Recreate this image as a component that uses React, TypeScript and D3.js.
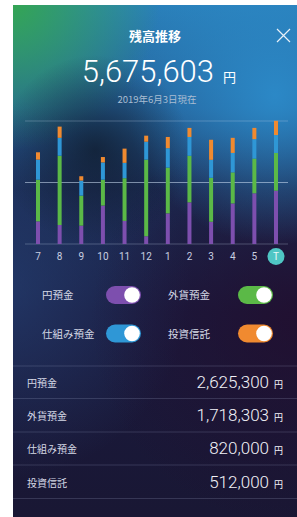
import React, { useEffect, useRef } from 'react';
import * as d3 from 'd3';

// months on the x axis ("T" = today)
const months = ["7", "8", "9", "10", "11", "12", "1", "2", "3", "4", "5", "T"];

// balances per category, in 万円
const yenDeposit = [105, 88, 85, 178, 107, 36, 142, 193, 103, 188, 235, 247];
const fxDeposit = [193, 321, 139, 120, 198, 355, 212, 216, 204, 144, 161, 175];
const structuredDeposit = [93, 83, 70, 80, 71, 83, 90, 87, 83, 90, 90, 83];
const investmentTrust = [34, 52, 20, 25, 66, 28, 52, 42, 93, 70, 52, 66];

const yTicks = [0, 285, 570];

const categories = ["円預金", "外貨預金", "仕組み預金", "投資信託"];
const categoryColors = ["#7d4fae", "#5bb947", "#2f97d6", "#f08a30"];
const categoryAmounts = [2625300, 1718303, 820000, 512000];

const totalAmount = 5675603;
const dateLabel = "2019年6月3日現在";
const title = "残高推移";

const JP = "'Noto Sans CJK JP', 'Noto Sans', sans-serif";
const NUM = "Roboto, 'Open Sans', sans-serif";

const App = () => {
  const svgRef = useRef<SVGSVGElement>(null);

  useEffect(() => {
    document.body.style.margin = "0";
    if (!svgRef.current) return;
    d3.select(svgRef.current).selectAll("*").remove();

    const width = 297;
    const height = 517;
    const panel = { x: 13, y: 5, w: 284, h: 512 };
    const cx = panel.x + panel.w / 2;

    const svg = d3.select(svgRef.current)
      .attr("width", width)
      .attr("height", height)
      .attr("viewBox", `0 0 ${width} ${height}`);

    svg.append("rect").attr("width", width).attr("height", height).attr("fill", "#fff");

    const defs = svg.append("defs");
    defs.append("clipPath").attr("id", "panel")
      .append("rect")
      .attr("x", panel.x).attr("y", panel.y).attr("width", panel.w).attr("height", panel.h);

    // background gradients
    const vert = defs.append("linearGradient").attr("id", "bgV")
      .attr("x1", 0).attr("y1", 0).attr("x2", 0).attr("y2", 1);
    [["0", "#2a80ba"], ["0.2", "#25629a"], ["0.36", "#1b2a52"], ["0.6", "#1a1a3e"], ["1", "#191734"]]
      .forEach(([o, c]) => vert.append("stop").attr("offset", o).attr("stop-color", c));

    const radial = (id: string, x: number, y: number, r: number, color: string, op: number) => {
      const g = defs.append("radialGradient").attr("id", id)
        .attr("gradientUnits", "userSpaceOnUse")
        .attr("cx", x).attr("cy", y).attr("r", r);
      g.append("stop").attr("offset", "0").attr("stop-color", color).attr("stop-opacity", op);
      g.append("stop").attr("offset", "1").attr("stop-color", color).attr("stop-opacity", 0);
    };
    radial("leftBlue", 0, 290, 190, "#27487e", 0.6);
    radial("rightPurple", 300, 320, 210, "#250b2a", 0.65);
    radial("blueGlow", 275, 95, 150, "#2c8ccb", 0.9);
    radial("greenGlow", 10, 0, 150, "#34a650", 1);
    radial("darkSpot", 95, 150, 95, "#0f1a2a", 0.75);

    const bg = svg.append("g").attr("clip-path", "url(#panel)");
    ["bgV", "leftBlue", "rightPurple", "blueGlow", "greenGlow", "darkSpot"].forEach(id => {
      bg.append("rect")
        .attr("x", panel.x).attr("y", panel.y)
        .attr("width", panel.w).attr("height", panel.h)
        .attr("fill", `url(#${id})`);
    });

    // header
    svg.append("text")
      .attr("x", cx).attr("y", 41)
      .attr("text-anchor", "middle")
      .attr("font-family", JP).attr("font-size", "13px").attr("font-weight", "bold")
      .attr("fill", "#fff")
      .text(title);

    svg.append("path")
      .attr("d", "M277,29L290,42M290,29L277,42")
      .attr("stroke", "#e8f0f8").attr("stroke-width", 1.2).attr("fill", "none");

    svg.append("text")
      .attr("x", 214).attr("y", 82)
      .attr("text-anchor", "end")
      .attr("font-family", NUM).attr("font-size", "31px").attr("font-weight", 300)
      .attr("fill", "#fff")
      .text(d3.format(",")(totalAmount));
    svg.append("text")
      .attr("x", 223).attr("y", 82)
      .attr("font-family", JP).attr("font-size", "13px")
      .attr("fill", "#fff")
      .text("円");

    svg.append("text")
      .attr("x", 157).attr("y", 103)
      .attr("text-anchor", "middle")
      .attr("font-family", JP).attr("font-size", "9.5px")
      .attr("fill", "#a9bdd2")
      .text(dateLabel);

    // chart
    const xScale = d3.scalePoint<string>().domain(months).range([38, 276]);
    const yScale = d3.scaleLinear().domain([0, 570]).range([244, 121]);

    svg.append("g").selectAll("line")
      .data(yTicks)
      .enter().append("line")
      .attr("x1", 25).attr("x2", 288)
      .attr("y1", d => yScale(d)).attr("y2", d => yScale(d))
      .attr("stroke", (d, i) => i === 1 ? "rgba(210,225,245,0.55)" : "rgba(200,215,240,0.28)")
      .attr("stroke-width", (d, i) => i === 1 ? 1.2 : 1);

    const table = months.map((m, i) => ({
      month: m,
      c0: yenDeposit[i],
      c1: fxDeposit[i],
      c2: structuredDeposit[i],
      c3: investmentTrust[i],
    }));
    const stack = d3.stack<any>().keys(["c0", "c1", "c2", "c3"]);
    const series = stack(table);
    const barW = 4;

    svg.append("g").selectAll("g")
      .data(series)
      .enter().append("g")
      .attr("fill", (d, i) => categoryColors[i])
      .selectAll("rect")
      .data(d => d)
      .enter().append("rect")
      .attr("x", d => (xScale(d.data.month) as number) - barW / 2)
      .attr("y", d => yScale(d[1]))
      .attr("width", barW)
      .attr("height", d => yScale(d[0]) - yScale(d[1]));

    const labels = svg.append("g");
    labels.append("circle")
      .attr("cx", xScale("T") as number).attr("cy", 256.5).attr("r", 8.5)
      .attr("fill", "#4fc6c4");
    labels.selectAll("text")
      .data(months)
      .enter().append("text")
      .attr("x", d => xScale(d) as number)
      .attr("y", 260)
      .attr("text-anchor", "middle")
      .attr("font-family", NUM).attr("font-size", "10px")
      .attr("fill", d => d === "T" ? "#e8f8f8" : "#c9cfe0")
      .text(d => d);

    // toggles
    const toggles = [
      { x: 42, tx: 106, y: 295 },
      { x: 168, tx: 238, y: 295 },
      { x: 42, tx: 106, y: 333.5 },
      { x: 168, tx: 238, y: 333.5 },
    ];
    const tg = svg.append("g");
    categories.forEach((name, i) => {
      const t = toggles[i];
      tg.append("text")
        .attr("x", t.x).attr("y", t.y + 4)
        .attr("font-family", JP).attr("font-size", "10.5px")
        .attr("fill", "#d6d9e6")
        .text(name);
      tg.append("rect")
        .attr("x", t.tx).attr("y", t.y - 9)
        .attr("width", 35).attr("height", 18).attr("rx", 9)
        .attr("fill", categoryColors[i]);
      tg.append("circle")
        .attr("cx", t.tx + 35 - 9).attr("cy", t.y).attr("r", 7.8)
        .attr("fill", "#fff");
    });

    // list
    const rowLines = [366, 398.5, 432, 465, 498.5];
    svg.append("g").selectAll("line")
      .data(rowLines)
      .enter().append("line")
      .attr("x1", panel.x).attr("x2", width)
      .attr("y1", d => d).attr("y2", d => d)
      .attr("stroke", "rgba(190,200,235,0.18)").attr("stroke-width", 1);

    const rows = svg.append("g").selectAll("g")
      .data(categories)
      .enter().append("g")
      .attr("transform", (d, i) => `translate(0, ${388 + i * 33.2})`);
    rows.append("text")
      .attr("x", 27).attr("y", -1)
      .attr("font-family", JP).attr("font-size", "10px")
      .attr("fill", "#d6d9e6")
      .text(d => d);
    rows.append("text")
      .attr("x", 269).attr("y", 0)
      .attr("text-anchor", "end")
      .attr("font-family", NUM).attr("font-size", "17px").attr("font-weight", 300)
      .attr("fill", "#f2f2f8")
      .text((d, i) => d3.format(",")(categoryAmounts[i]));
    rows.append("text")
      .attr("x", 274).attr("y", 0)
      .attr("font-family", JP).attr("font-size", "9px")
      .attr("fill", "#f2f2f8")
      .text("円");
  }, []);

  return (
    <svg ref={svgRef} style={{ display: "block" }}></svg>
  );
};

export default App;
